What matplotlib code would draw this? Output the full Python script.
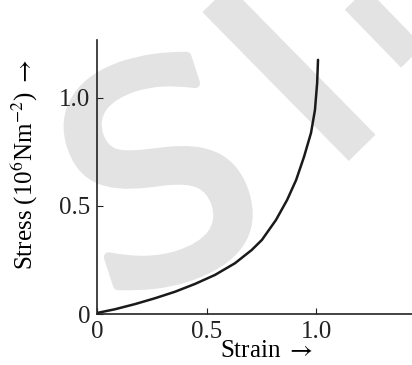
import matplotlib
matplotlib.use("Agg")
import matplotlib.pyplot as plt
import matplotlib.patheffects as pe
from matplotlib.lines import Line2D

# stress-strain curve
strain = [0.0, 0.006, 0.082, 0.174, 0.265, 0.356, 0.447, 0.539, 0.630, 0.706, 0.753,
          0.817, 0.868, 0.909, 0.945, 0.977, 0.995, 1.005, 1.009]
stress = [0.0, 0.006, 0.022, 0.046, 0.073, 0.103, 0.139, 0.181, 0.235, 0.296, 0.343,
          0.435, 0.528, 0.620, 0.727, 0.838, 0.944, 1.069, 1.176]

xticks = [0, 0.5, 1.0]
xtick_labels = ["0", "0.5", "1.0"]
yticks = [0, 0.5, 1.0]
ytick_labels = ["0", "0.5", "1.0"]

plt.rcParams['font.family'] = ['Liberation Serif', 'DejaVu Serif']
plt.rcParams['mathtext.fontset'] = 'stix'

fig = plt.figure(figsize=(4.12, 3.65), dpi=100)

# faint watermark behind everything
wm = "#e3e3e3"
fig.text(0.40, 0.465, "S", fontsize=210, color=wm, ha="center", va="center",
         family="DejaVu Sans", rotation=18, zorder=-5,
         path_effects=[pe.withStroke(linewidth=7, foreground=wm)])
fig.add_artist(Line2D([0.50, 0.879], [1.03, 0.595], lw=27, color=wm, zorder=-5,
                      solid_capstyle="butt"))
fig.add_artist(Line2D([0.84, 1.0], [1.03, 0.844], lw=22, color=wm, zorder=-5,
                      solid_capstyle="butt"))

ax = fig.add_axes([0.2354, 0.1397, 0.7646, 0.752])
ax.patch.set_alpha(0)
ax.plot(strain, stress, color="#1a1a1a", lw=1.8, solid_capstyle="round",
        solid_joinstyle="round")

ax.set_xlim(0, 1.438)
ax.set_ylim(0, 1.27)
ax.spines['top'].set_visible(False)
ax.spines['right'].set_visible(False)
for s in ['left', 'bottom']:
    ax.spines[s].set_linewidth(1.2)
    ax.spines[s].set_color("#222222")

ax.set_xticks(xticks)
ax.set_xticklabels(xtick_labels)
ax.set_yticks(yticks)
ax.set_yticklabels(ytick_labels)
ax.tick_params(direction='in', length=4, width=0.8, labelsize=18, colors="#222222", pad=5)

ax.set_xlabel("Strain $\\rightarrow$", fontsize=18)
ax.set_ylabel("Stress (10$^6$Nm$^{-2}$) $\\rightarrow$", fontsize=18)
ax.xaxis.set_label_coords(0.537, -0.095)
ax.yaxis.set_label_coords(-0.18, 0.544)

fig.savefig("out.png", dpi=100)
